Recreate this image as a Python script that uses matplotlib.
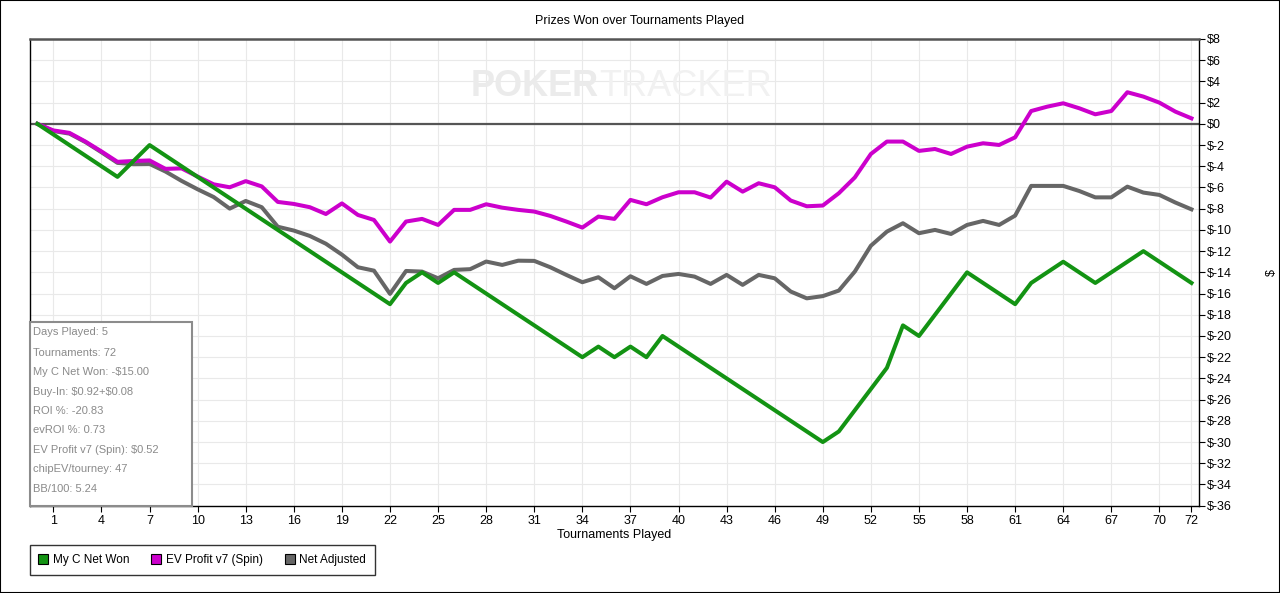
import matplotlib
matplotlib.use("Agg")
import matplotlib.pyplot as plt
from matplotlib.lines import Line2D
from matplotlib.patches import Rectangle
import numpy as np

plt.rcParams['font.family'] = ['Liberation Sans', 'DejaVu Sans']

tournaments = list(range(0, 73))

net_won = [0, -1, -2, -3, -4, -5, -3.5, -2, -3, -4,
           -5, -6, -7, -8, -9, -10, -11, -12, -13, -14,
           -15, -16, -17, -15, -14, -15, -14, -15, -16, -17,
           -18, -19, -20, -21, -22, -21, -22, -21, -22, -20,
           -21, -22, -23, -24, -25, -26, -27, -28, -29, -30,
           -29, -27, -25, -23, -19, -20, -18, -16, -14, -15,
           -16, -17, -15, -14, -13, -14, -15, -14, -13, -12,
           -13, -14, -15]

ev_profit = [0, -0.62, -0.85, -1.67, -2.6, -3.58, -3.5, -3.45, -4.25, -4.2,
             -4.97, -5.7, -5.98, -5.4, -5.9, -7.36, -7.55, -7.86, -8.5, -7.5,
             -8.59, -9.06, -11.1, -9.21, -8.96, -9.53, -8.11, -8.11, -7.58, -7.9,
             -8.11, -8.27, -8.68, -9.21, -9.78, -8.74, -8.96, -7.17, -7.58, -6.92,
             -6.45, -6.45, -6.95, -5.45, -6.39, -5.6, -5.98, -7.23, -7.77, -7.7,
             -6.54, -5.05, -2.84, -1.67, -1.67, -2.55, -2.37, -2.84, -2.15, -1.83,
             -1.99, -1.27, 1.21, 1.62, 1.94, 1.47, 0.9, 1.21, 2.98, 2.57,
             2.0, 1.15, 0.52]

net_adjusted = [0, -0.68, -0.92, -1.72, -2.68, -3.68, -3.8, -3.78, -4.5, -5.38,
                -6.17, -6.9, -7.99, -7.27, -7.86, -9.7, -10.06, -10.57, -11.3, -12.33,
                -13.52, -13.84, -16.03, -13.87, -13.93, -14.56, -13.77, -13.7, -12.98, -13.3,
                -12.9, -12.92, -13.52, -14.24, -14.93, -14.46, -15.5, -14.37, -15.09, -14.34,
                -14.15, -14.4, -15.09, -14.24, -15.18, -14.24, -14.56, -15.81, -16.45, -16.24,
                -15.72, -13.92, -11.49, -10.16, -9.37, -10.31, -10.0, -10.38, -9.53, -9.15,
                -9.53, -8.65, -5.85, -5.85, -5.85, -6.33, -6.93, -6.93, -5.92, -6.48,
                -6.7, -7.42, -8.06]

x_ticks = [1, 4, 7, 10, 13, 16, 19, 22, 25, 28, 31, 34, 37, 40, 43, 46, 49,
           52, 55, 58, 61, 64, 67, 70, 72]
y_ticks = list(range(8, -37, -2))
y_tick_labels = ["$%d" % v for v in y_ticks]

series_names = ["My C Net Won", "EV Profit v7 (Spin)", "Net Adjusted"]
series_colors = ["#139313", "#cc00cc", "#666666"]

info_lines = ["Days Played: 5", "Tournaments: 72", "My C Net Won: -$15.00",
              "Buy-In: $0.92+$0.08", "ROI %: -20.83", "evROI %: 0.73",
              "EV Profit v7 (Spin): $0.52", "chipEV/tourney: 47", "BB/100: 5.24"]

W, H = 1280, 593
fig = plt.figure(figsize=(W / 100, H / 100), dpi=100)
fig.patch.set_facecolor("white")

L, R, T, B = 29.5, 1199, 39, 505.7
ax = fig.add_axes([L / W, 1 - B / H, (R - L) / W, (B - T) / H])

ax.set_xlim(-0.49, 72.47)
ax.set_ylim(-36, 8)

# grid
ax.set_xticks(x_ticks)
ax.set_yticks(y_ticks)
ax.set_yticklabels(y_tick_labels)
ax.grid(True, color="#e9e9e9", linewidth=0.8, zorder=0)
ax.set_axisbelow(True)

# watermark
wx = (599 - L) / (R - L)
wy = (B - 86) / (B - T)
ax.text(wx, wy, "POKER", transform=ax.transAxes, fontsize=26, fontweight="bold",
        color="#ebebeb", ha="right", va="center", zorder=1)
ax.text(wx, wy, "TRACKER", transform=ax.transAxes, fontsize=26,
        color="#f1f1f1", ha="left", va="center", zorder=1)

# zero line
ax.axhline(0, color="#555555", linewidth=1.6, zorder=2)

lw = 2.9
ax.plot(tournaments, net_adjusted, color=series_colors[2], linewidth=lw, zorder=3,
        solid_joinstyle="round")
ax.plot(tournaments, ev_profit, color=series_colors[1], linewidth=lw, zorder=4,
        solid_joinstyle="round")
ax.plot(tournaments, net_won, color=series_colors[0], linewidth=lw, zorder=5,
        solid_joinstyle="round")

# spines / ticks
ax.yaxis.tick_right()
ax.yaxis.set_label_position("right")
for s in ["left", "bottom", "right"]:
    ax.spines[s].set_color("black")
    ax.spines[s].set_linewidth(1.0)
ax.spines["top"].set_color("#555555")
ax.spines["top"].set_linewidth(1.8)
ax.tick_params(axis="both", labelsize=9, colors="black", length=4, width=0.8,
               direction="out")
ax.tick_params(axis="x", pad=3)
ax.tick_params(axis="y", pad=2)
ax.set_xlabel("Tournaments Played", fontsize=9, labelpad=1)
ax.set_ylabel("$", fontsize=9, labelpad=24)

fig.text(0.5, 1 - 21 / H, "Prizes Won over Tournaments Played", ha="center",
         va="center", fontsize=9)

# info box
bx1, by1 = 192, 322
ax.add_patch(Rectangle((0, 0), (bx1 - L) / (R - L), (B - by1) / (B - T),
                       transform=ax.transAxes, facecolor="white",
                       edgecolor="#8c8c8c", linewidth=1.5, zorder=6,
                       clip_on=False))
line_y = [332, 353, 372, 392, 411, 430, 450, 469, 489]
for txt, yy in zip(info_lines, line_y):
    fig.text(33 / W, 1 - yy / H, txt.replace("$", r"\$"), ha="left", va="center",
             fontsize=8.0, color="#8a8a8a", zorder=7)

# legend
handles = [Line2D([], [], linestyle="none", marker="s", markersize=7,
                  markerfacecolor=c, markeredgecolor="black", markeredgewidth=0.8)
           for c in series_colors]
leg = fig.legend(handles, series_names, loc="upper left",
                 bbox_to_anchor=(29.5 / W, 1 - 545 / H), ncol=3, fontsize=8.5,
                 frameon=True, fancybox=False, shadow=False, edgecolor="black",
                 handlelength=0.8, handletextpad=0.4, columnspacing=1.9,
                 borderpad=0.75, borderaxespad=0)
leg.get_frame().set_linewidth(1.0)

# outer border
fig.add_artist(Rectangle((0, 0), 1, 1, transform=fig.transFigure, fill=False,
                         edgecolor="black", linewidth=1.5))

fig.savefig("out.png", dpi=100)
